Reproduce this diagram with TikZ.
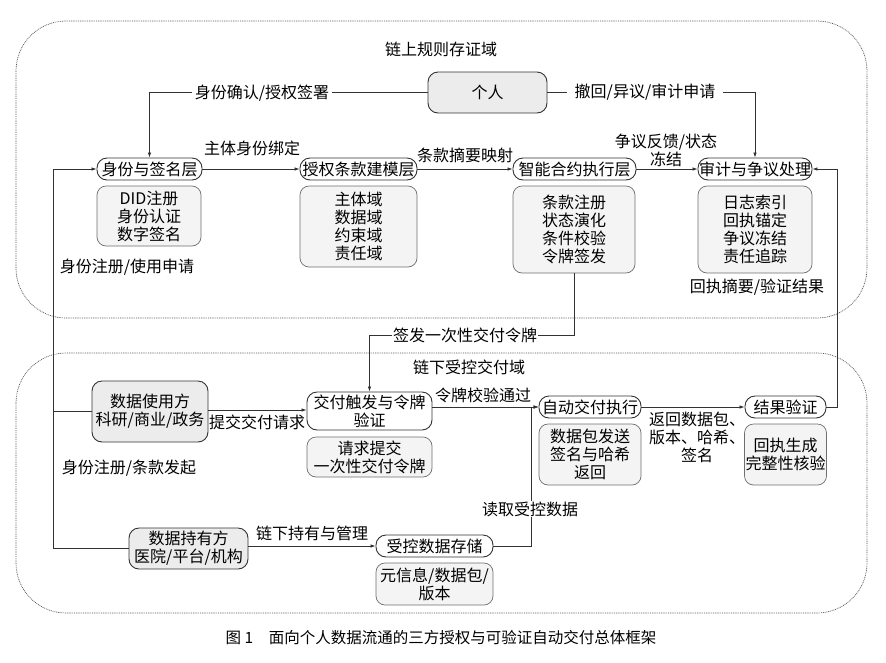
\documentclass[tikz,border=0pt]{standalone}
\usepackage{fontspec}
\setmainfont{Noto Sans CJK SC}
\usepackage{tikz}
\usetikzlibrary{arrows.meta, calc}
\definecolor{LineGray}{RGB}{50,50,50}
\definecolor{EdgeGray}{RGB}{110,110,110}
\definecolor{ZoneGray}{RGB}{85,85,85}
\definecolor{PartyFill}{RGB}{236,236,236}
\definecolor{SubFill}{RGB}{244,244,244}

\begin{document}
\begin{tikzpicture}[x=1pt, y=-1pt,
    font=\fontsize{16}{18}\selectfont,
    layer/.style={rectangle, rounded corners=10pt, draw=LineGray, line width=0.9pt,
                  fill=white, minimum height=22pt, inner sep=1pt, align=center},
    sub/.style={rectangle, rounded corners=9pt, draw=EdgeGray, line width=0.7pt,
                fill=SubFill, inner sep=1pt, align=center},
    party/.style={rectangle, rounded corners=10pt, draw=LineGray, line width=0.9pt,
                  fill=PartyFill, inner sep=1pt, align=center},
    zone/.style={draw=ZoneGray, dash pattern=on 0.9pt off 0.9pt,
                 rounded corners=50pt, line width=0.7pt},
    lbl/.style={inner sep=1pt, align=center},
    arr/.style={-{Latex[length=5pt, width=3.5pt]}, LineGray, line width=0.7pt},
    ln/.style={LineGray, line width=0.7pt}
  ]
  \useasboundingbox (0,0) rectangle (886,662);

  % two domains
  \draw[zone] (16,21) rectangle (867,318);
  \draw[zone] (16,353) rectangle (867,613);
  \node[lbl] (onchain) at (441,49) {链上规则存证域};
  \node[lbl] (offchain) at (469,367) {链下受控交付域};

  % on-chain layers
  \node[party, minimum width=119pt, minimum height=41pt] (person) at (487.5,92.5) {个人};
  \node[layer, minimum width=105pt] (idl) at (149.5,169) {身份与签名层};
  \node[sub, minimum width=104pt, minimum height=60pt] (idsub) at (149,216)
        {DID注册\\身份认证\\数字签名};
  \node[layer, minimum width=117pt] (clause) at (358.5,169) {授权条款建模层};
  \node[sub, minimum width=117pt, minimum height=81pt] (clausesub) at (358.5,226.5)
        {主体域\\数据域\\约束域\\责任域};
  \node[layer, minimum width=123pt] (contract) at (574.5,169) {智能合约执行层};
  \node[sub, minimum width=122pt, minimum height=87pt] (contractsub) at (574,229.5)
        {条款注册\\状态演化\\条件校验\\令牌签发};
  \node[layer, minimum width=114pt] (audit) at (755,169) {审计与争议处理};
  \node[sub, minimum width=114pt, minimum height=87pt] (auditsub) at (755,229.5)
        {日志索引\\回执锚定\\争议冻结\\责任追踪};

  % off-chain parties and steps
  \node[party, minimum width=116pt, minimum height=61pt] (user) at (150,411.5)
        {数据使用方\\科研/商业/政务};
  \node[layer, minimum width=125pt, minimum height=38pt] (trigger) at (369.5,411)
        {交付触发与令牌\\验证};
  \node[sub, minimum width=125pt, minimum height=40pt] (triggersub) at (369.5,457)
        {请求提交\\一次性交付令牌};
  \node[layer, minimum width=102pt] (exec) at (590,407) {自动交付执行};
  \node[sub, minimum width=102pt, minimum height=61pt] (execsub) at (590,454.5)
        {数据包发送\\签名与哈希\\返回};
  \node[layer, minimum width=81pt] (verify) at (785.5,407) {结果验证};
  \node[sub, minimum width=81pt, minimum height=61pt] (verifysub) at (785.5,454.5)
        {回执生成\\完整性核验};
  \node[party, minimum width=119pt, minimum height=41pt] (holder) at (188.5,548.5)
        {数据持有方\\医院/平台/机构};
  \node[layer, minimum width=117pt] (store) at (434.5,546) {受控数据存储};
  \node[sub, minimum width=117pt, minimum height=42pt] (storesub) at (434.5,584)
        {元信息/数据包/\\版本};

  % connectors
  \coordinate (ljoin) at (53,169);
  \coordinate (rjoin) at (837,169);
  \coordinate (tok) at (465,335);
  \coordinate (rjn) at (531,407);
  \draw[arr] (person.west) -| (idl.north);
  \draw[arr] (person.east) -| (audit.north);
  \draw[arr] (idl) -- (clause);
  \draw[arr] (clause) -- (contract);
  \draw[arr] (contract) -- (audit);
  \draw[arr] (holder.west) -| (ljoin) -- (idl.west);
  \draw[ln] (user.west) -- (user.west -| ljoin);
  \draw[arr] (verify.east) -| (rjoin) -- (audit.east);
  \draw[arr] (contractsub.south) |- (tok) -| (trigger.north);
  \draw[arr] (user.east |- 0,410) -- (trigger.west |- 0,410);
  \draw[arr] (trigger.east |- exec.west) -- (exec.west);
  \draw[arr] (store.east) -| (rjn) -- (exec.west);
  \draw[arr] (exec) -- (verify);
  \draw[arr] (holder.east |- store.west) -- (store.west);

  % connector labels
  \node[lbl, fill=white, inner xsep=3pt] (lconfirm) at (262,93) {身份确认/授权签署};
  \node[lbl, fill=white, inner xsep=8pt] (lrevoke) at (645,92) {撤回/异议/审计申请};
  \node[lbl] (lbind) at (252,148) {主体身份绑定};
  \node[lbl] (lmap) at (465,155) {条款摘要映射};
  \node[lbl] (ldispute) at (666,150) {争议反馈/状态\\冻结};
  \node[lbl] (lidreq) at (127,267) {身份注册/使用申请};
  \node[lbl] (lreceipt) at (757,287) {回执摘要/验证结果};
  \node[lbl, fill=white] (ltoken) at (tok) {签发一次性交付令牌};
  \node[lbl] (lsubmit) at (257,422) {提交交付请求};
  \node[lbl] (lpass) at (483,395) {令牌校验通过};
  \node[lbl, fill=white] (lread) at (530,509) {读取受控数据};
  \node[lbl] (lreturn) at (697,437) {返回数据包、\\版本、哈希、\\签名};
  \node[lbl] (lidclause) at (129,468) {身份注册/条款发起};
  \node[lbl] (lhold) at (312,533) {链下持有与管理};

  \node[lbl, font=\fontsize{15.5}{18}\selectfont] (caption) at (441,638)
        {图 1\hspace{1em}面向个人数据流通的三方授权与可验证自动交付总体框架};
\end{tikzpicture}
\end{document}
